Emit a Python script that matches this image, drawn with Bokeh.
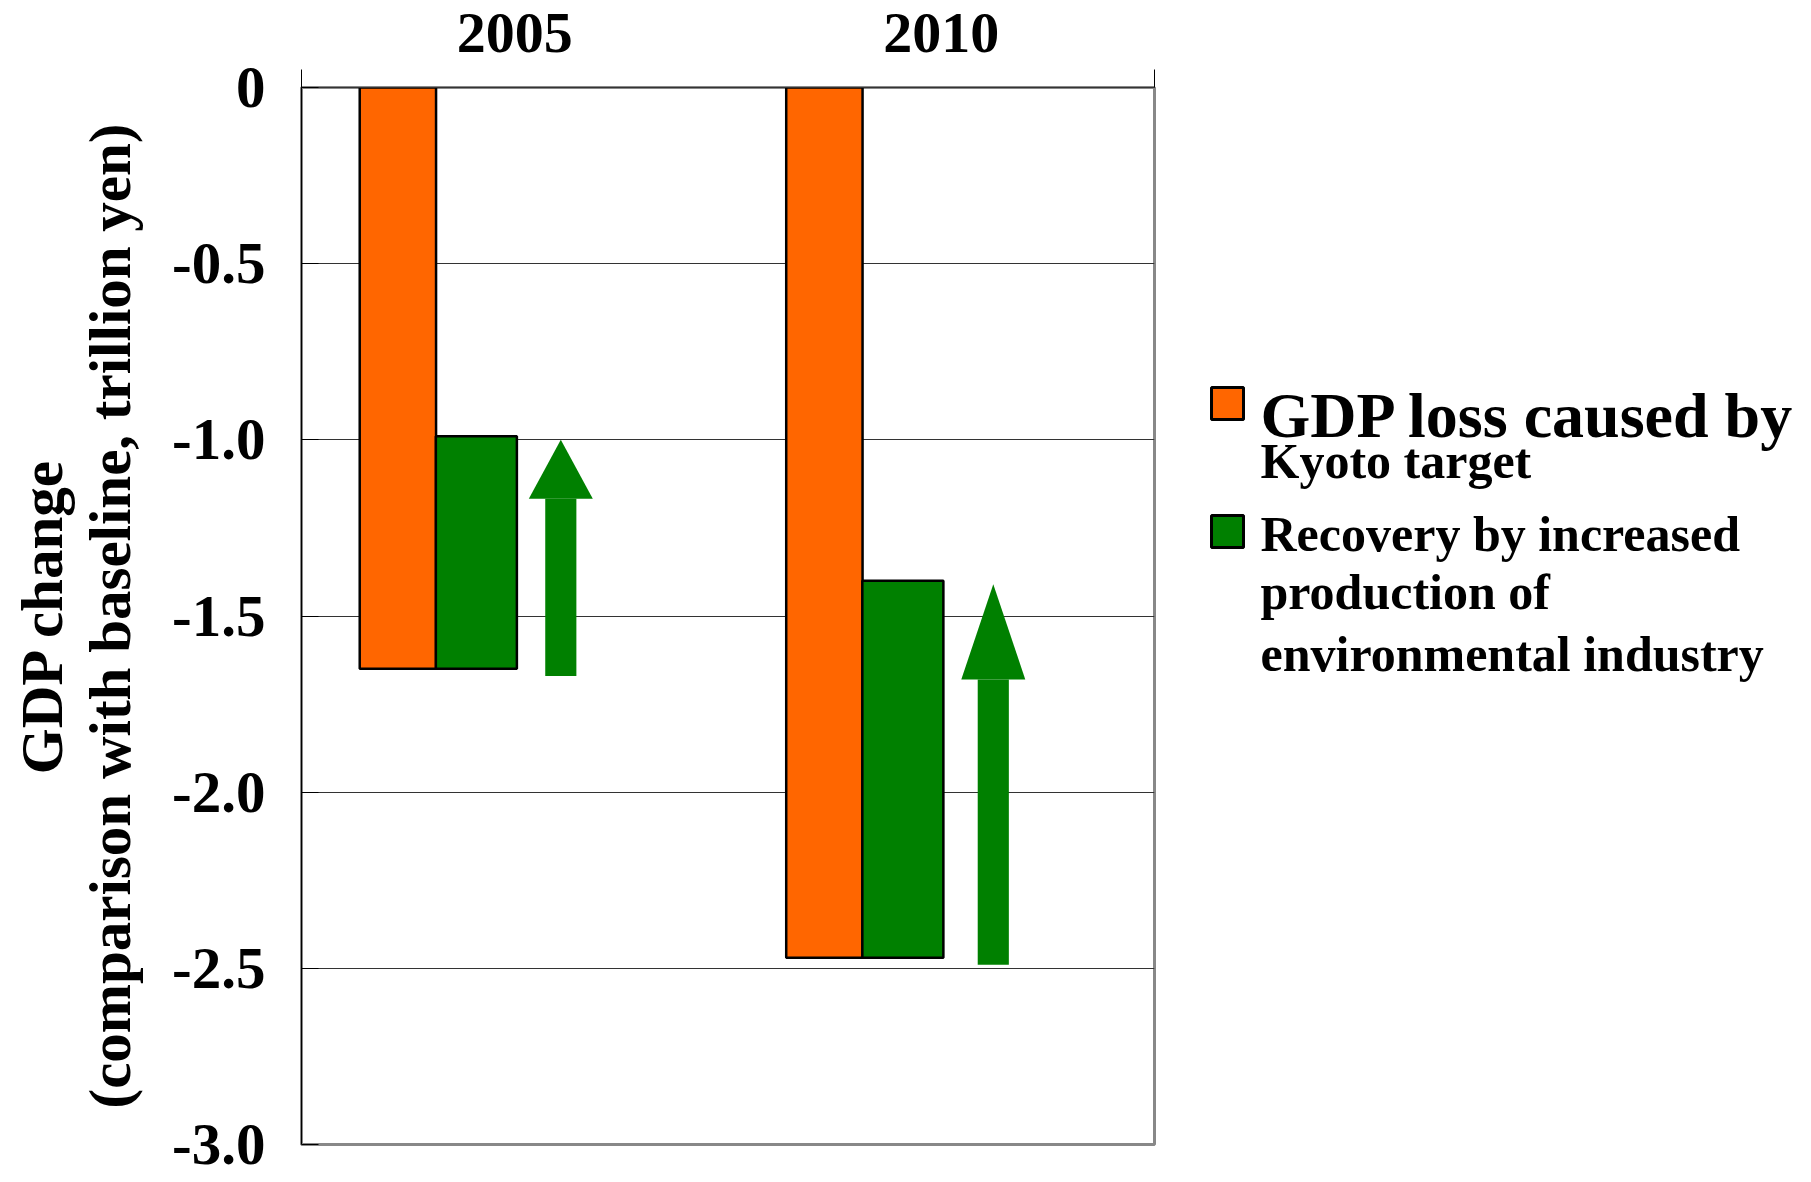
from bokeh.plotting import figure
from bokeh.models import FixedTicker, Range1d, Title
from bokeh.layouts import row
from bokeh.embed import file_html
from bokeh.resources import INLINE
from bokeh.core.properties import value

# ---------------- data ----------------
years = ["2005", "2010"]
gdp_loss = [-1.65, -2.47]          # GDP loss caused by Kyoto target
after_recovery = [-0.99, -1.40]    # level after recovery by environmental industry
arrow_start = [-1.67, -2.49]
arrow_end = [-1.00, -1.41]
y_ticks = [0, -0.5, -1.0, -1.5, -2.0, -2.5, -3.0]
y_tick_labels = ["0", "-0.5", "-1.0", "-1.5", "-2.0", "-2.5", "-3.0"]
series_names = ["GDP loss caused by", "Kyoto target",
                "Recovery by increased", "production of", "environmental industry"]
y_title_1 = "GDP change"
y_title_2 = "(comparison with baseline, trillion yen)"

ORANGE = "#FF6600"
GREEN = "#008000"
FONT = "Liberation Serif"

# ---------------- geometry (style) ----------------
idx = list(range(len(years)))
orange_x = [i + 0.226 for i in idx]
green_x = [i + 0.410 for i in idx]
arrow_offsets = [0.608, 0.622]
arrow_x = [i + o for i, o in zip(idx, arrow_offsets)]
shaft_w = 0.073
head_hw = 0.075
head_frac = 0.25

head_base = [e - head_frac * (e - s) for s, e in zip(arrow_start, arrow_end)]
head_xs = [[x - head_hw, x, x + head_hw] for x in arrow_x]
head_ys = [[b, e, b] for b, e in zip(head_base, arrow_end)]

TOP, BOTTOM, H = 87, 22, 1166

p = figure(width=1168, height=H, x_range=Range1d(0, 2), y_range=Range1d(-3.0, 0),
           output_backend="svg", toolbar_location=None, x_axis_location="above",
           min_border_left=301, min_border_right=14, min_border_top=TOP,
           min_border_bottom=BOTTOM)
p.background_fill_color = "white"
p.outline_line_color = "#888888"
p.outline_line_width = 3

# bars
p.vbar(x=orange_x, top=[0] * len(years), bottom=gdp_loss, width=0.179,
       fill_color=ORANGE, line_color="black", line_width=2.5)
p.vbar(x=green_x, top=after_recovery, bottom=gdp_loss, width=0.19,
       fill_color=GREEN, line_color="black", line_width=2.5)
# arrows
p.vbar(x=arrow_x, top=head_base, bottom=arrow_start, width=shaft_w,
       fill_color=GREEN, line_color=None)
p.patches(xs=head_xs, ys=head_ys, fill_color=GREEN, line_color=None)

# x axis (top)
xa = p.xaxis[0]
xa.ticker = FixedTicker(ticks=[i + 0.5 for i in idx], minor_ticks=[0, 2])
xa.major_label_overrides = {i + 0.5: y for i, y in zip(idx, years)}
xa.major_tick_out = 0
xa.major_tick_in = 0
xa.minor_tick_out = 18
xa.minor_tick_in = 0
xa.minor_tick_line_color = "black"
xa.axis_line_color = "#333333"
xa.major_label_text_font = FONT
xa.major_label_text_font_style = "bold"
xa.major_label_text_font_size = "58px"
xa.major_label_text_color = "black"
xa.major_label_standoff = 18

# y axis
ya = p.yaxis[0]
ya.ticker = FixedTicker(ticks=y_ticks, minor_ticks=[])
ya.major_label_overrides = {t: l for t, l in zip(y_ticks, y_tick_labels)}
ya.major_tick_in = 17
ya.major_tick_out = 0
ya.major_tick_line_color = "black"
ya.axis_line_color = "black"
ya.axis_line_width = 1
ya.major_label_text_font = FONT
ya.major_label_text_font_style = "bold"
ya.major_label_text_font_size = "59px"
ya.major_label_text_color = "black"
ya.major_label_standoff = 36
ya.axis_label = y_title_2
ya.axis_label_text_font = FONT
ya.axis_label_text_font_style = "bold"
ya.axis_label_text_font_size = "59px"
ya.axis_label_text_color = "black"
ya.axis_label_standoff = 26

p.add_layout(Title(text=y_title_1, align="center", text_font=FONT, text_font_style="bold",
                   text_font_size="59px", text_color="black", standoff=0), "left")

p.xgrid.grid_line_color = None
p.ygrid.ticker = FixedTicker(ticks=y_ticks)
p.ygrid.grid_line_color = "#333333"
p.ygrid.grid_line_width = 1

# ---------------- legend panel ----------------
LW = 1795 - 1168
leg = figure(width=LW, height=H, x_range=Range1d(0, LW),
             y_range=Range1d(BOTTOM, H - TOP),
             output_backend="svg", toolbar_location=None,
             min_border_left=0, min_border_right=0,
             min_border_top=TOP, min_border_bottom=BOTTOM)
leg.axis.visible = False
leg.grid.grid_line_color = None
leg.outline_line_color = None

# legend coordinates: y measured upward from the bottom of the panel
leg.rect(x=[59, 59], y=[H - 403, H - 531], width=32, height=32,
         fill_color=[ORANGE, GREEN], line_color="black", line_width=3)
leg.text(x=[92] * 5, y=[H - 415, H - 460, H - 533, H - 591, H - 653], text=series_names,
         text_font=value(FONT), text_font_style="bold",
         text_font_size=["64px", "50px", "50px", "50px", "50px"],
         text_color="black", text_baseline="alphabetic", text_align="left")

layout = row(p, leg)
open("out.html", "w").write(file_html(layout, INLINE))
